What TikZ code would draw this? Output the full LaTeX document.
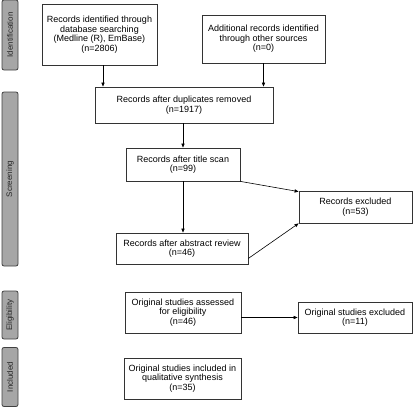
\documentclass[tikz,border=0pt]{standalone}
\usepackage{fontspec}
\setmainfont{Liberation Sans}
\usetikzlibrary{arrows.meta}
\begin{document}
\begin{tikzpicture}[x=1pt,y=-1pt,
  box/.style={draw=black!80,line width=0.8pt,fill=white,align=center,inner sep=1pt,
    font=\fontsize{9}{9.6}\selectfont},
  phase/.style={draw=black!75,line width=0.8pt,fill=black!35,rounded corners=2pt,
    minimum width=16pt,inner sep=0pt},
  phasetxt/.style={rotate=90,font=\fontsize{8}{9}\selectfont,text=black!85},
  arr/.style={draw=black,line width=0.6pt,-{Triangle[length=4pt,width=3.2pt]}}]
\useasboundingbox (0,0) rectangle (413,407);
% phase bars
\node[phase,minimum height=70pt] (p1) at (10,35) {};
\node[phasetxt] at (p1) {Identification};
\node[phase,minimum height=174pt] (p2) at (10,179) {};
\node[phasetxt] at (p2) {Screening};
\node[phase,minimum height=48pt] (p3) at (10,315) {};
\node[phasetxt] at (p3) {Eligibility};
\node[phase,minimum height=59pt] (p4) at (10,377) {};
\node[phasetxt] at (p4) {Included};
% boxes
\node[box,minimum width=115pt,minimum height=61pt] (b1) at (99.5,34.5)
  {Records identified through\\database searching\\(Medline (R), EmBase)\\(n=2806)};
\node[box,minimum width=123pt,minimum height=48pt] (b2) at (263.5,39)
  {Additional records identified\\through other sources\\(n=0)};
\node[box,minimum width=178pt,minimum height=36pt] (b3) at (184,105)
  {Records after duplicates removed\\(n=1917)};
\node[box,minimum width=114pt,minimum height=33pt] (b4) at (183,164.5)
  {Records after title scan\\(n=99)};
\node[box,minimum width=113pt,minimum height=32pt] (b5) at (355.5,207)
  {Records excluded\\(n=53)};
\node[box,minimum width=132pt,minimum height=31pt] (b6) at (182,248.5)
  {Records after abstract review\\(n=46)};
\node[box,minimum width=116pt,minimum height=41pt] (b7) at (183,312.5)
  {Original studies assessed\\for eligibility\\(n=46)};
\node[box,minimum width=114pt,minimum height=31pt] (b8) at (355,317.5)
  {Original studies excluded\\(n=11)};
\node[box,minimum width=117pt,minimum height=41pt] (b9) at (182.5,378.5)
  {Original studies included in\\qualitative synthesis\\(n=35)};
% connectors
\draw[arr] ([xshift=3.5pt]b1.south) -- ([xshift=3.5pt]b1.south |- b3.north);
\draw[arr] (b2.south) -- (b2.south |- b3.north);
\draw[arr] (b3.south -| b4.north) -- (b4.north);
\draw[arr] (b4.south) -- (b4.south |- b6.north);
\draw[arr] (b4.south east) -- ([yshift=-1pt]b5.north west);
\draw[arr] ([yshift=6pt]b6.south east) -- (b5.south west);
\draw[arr] (b8.west -| b7.east) -- (b8.west);
\end{tikzpicture}
\end{document}
